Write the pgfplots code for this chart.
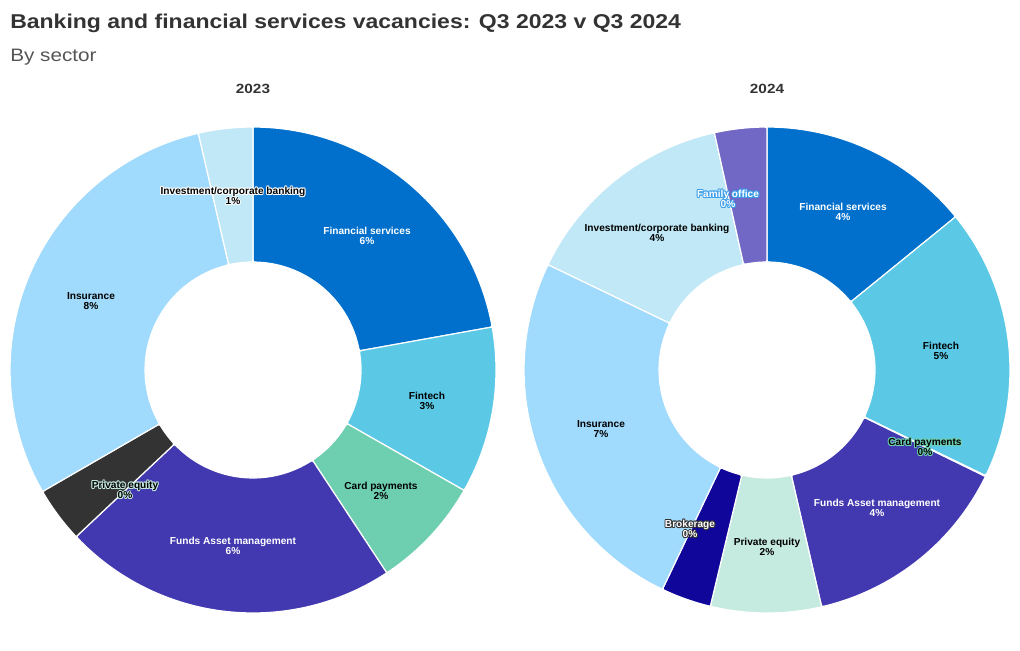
\documentclass[border=0pt]{standalone}
\usepackage{fontspec}
\setmainfont{Liberation Sans}
\newfontfamily\titlefont[FakeStretch=1.15]{Liberation Sans}
\usepackage{pgfplots}
\pgfplotsset{compat=1.18}

\definecolor{cFS}{HTML}{0070CC}
\definecolor{cFin}{HTML}{5BC8E6}
\definecolor{cCard}{HTML}{6ECFB0}
\definecolor{cFunds}{HTML}{4238B0}
\definecolor{cPEa}{HTML}{333333}
\definecolor{cPEb}{HTML}{C5EAE0}
\definecolor{cIns}{HTML}{A0DAFC}
\definecolor{cInv}{HTML}{C0E8F6}
\definecolor{cBro}{HTML}{10069A}
\definecolor{cFam}{HTML}{7068C4}
\definecolor{cTitle}{HTML}{333333}
\definecolor{cSub}{HTML}{555555}
\definecolor{cHaloFam}{HTML}{3A9EEA}

% slice: cx, cy, start angle, end angle (degrees clockwise from 12 o'clock), colour
\newcommand{\slice}[5]{%
\addplot[fill=#5, draw=white, line width=0.9pt, rounded corners=1.5pt,
  samples at={0,1,...,40,100,101,...,140,200}, variable=\t]
 ({#1+(((\t<50)||(\t>150))?243:108)*sin((\t<50)?(#3+(#4-#3)*\t/40):((\t<150)?(#4-(#4-#3)*(\t-100)/40):#3))},
  {#2-(((\t<50)||(\t>150))?243:108)*cos((\t<50)?(#3+(#4-#3)*\t/40):((\t<150)?(#4-(#4-#3)*(\t-100)/40):#3))});
}

\tikzset{lbl/.style={align=center, inner sep=0pt, font=\bfseries\fontsize{7.6}{7.7}\selectfont}}

% plain label: x, y, text colour, line1, line2
\newcommand{\lab}[5]{%
 \node[lbl, text=#3] at (axis cs:#1,#2) {#4\\#5};
}
% halo label: x, y, text colour, halo colour, line1, line2
\newcommand{\hlab}[6]{%
 \node[lbl, text=#4, xshift=0.7pt] at (axis cs:#1,#2) {#5\\#6};
 \node[lbl, text=#4, xshift=-0.7pt] at (axis cs:#1,#2) {#5\\#6};
 \node[lbl, text=#4, yshift=0.7pt] at (axis cs:#1,#2) {#5\\#6};
 \node[lbl, text=#4, yshift=-0.7pt] at (axis cs:#1,#2) {#5\\#6};
 \node[lbl, text=#4, xshift=0.5pt, yshift=0.5pt] at (axis cs:#1,#2) {#5\\#6};
 \node[lbl, text=#4, xshift=-0.5pt, yshift=0.5pt] at (axis cs:#1,#2) {#5\\#6};
 \node[lbl, text=#4, xshift=0.5pt, yshift=-0.5pt] at (axis cs:#1,#2) {#5\\#6};
 \node[lbl, text=#4, xshift=-0.5pt, yshift=-0.5pt] at (axis cs:#1,#2) {#5\\#6};
 \node[lbl, text=#3] at (axis cs:#1,#2) {#5\\#6};
}

\begin{document}
\begin{tikzpicture}
\path[use as bounding box] (0,0) rectangle (765pt,487.5pt);
\begin{axis}[at={(0,0)}, anchor=south west, scale only axis,
  width=765pt, height=487.5pt, xmin=0, xmax=1020, ymin=0, ymax=650,
  y dir=reverse, hide axis, clip=false]

% ---- 2023 (centre 253,370) ----
\slice{253}{370}{0}{79.8}{cFS}
\slice{253}{370}{79.8}{119.7}{cFin}
\slice{253}{370}{119.7}{146.6}{cCard}
\slice{253}{370}{146.6}{226.7}{cFunds}
\slice{253}{370}{226.7}{240.0}{cPEa}
\slice{253}{370}{240.0}{347.0}{cIns}
\slice{253}{370}{347.0}{360.0}{cInv}

% ---- 2024 (centre 767,370) ----
\slice{767}{370}{0}{50.9}{cFS}
\slice{767}{370}{50.9}{115.8}{cFin}
\slice{767}{370}{115.8}{116.0}{cCard}
\slice{767}{370}{116.0}{167.0}{cFunds}
\slice{767}{370}{167.0}{193.5}{cPEb}
\slice{767}{370}{193.5}{205.5}{cBro}
\slice{767}{370}{205.5}{295.7}{cIns}
\slice{767}{370}{295.7}{347.5}{cInv}
\slice{767}{370}{347.5}{360.0}{cFam}

% labels 2023
\hlab{233}{196}{black}{white}{Investment/corporate banking}{1\%}
\lab{367}{236}{white}{Financial services}{6\%}
\lab{427}{401}{black}{Fintech}{3\%}
\lab{381}{491}{black}{Card payments}{2\%}
\lab{233}{546}{white}{Funds Asset management}{6\%}
\hlab{125}{490}{black}{cPEb}{Private equity}{0\%}
\lab{91}{301}{black}{Insurance}{8\%}

% labels 2024
\hlab{728}{199}{white}{cHaloFam}{Family office}{0\%}
\lab{843}{212}{white}{Financial services}{4\%}
\lab{657}{233}{black}{Investment/corporate banking}{4\%}
\lab{941}{351}{black}{Fintech}{5\%}
\hlab{925}{447}{black}{cCard}{Card payments}{0\%}
\lab{601}{429}{black}{Insurance}{7\%}
\lab{877}{508}{white}{Funds Asset management}{4\%}
\hlab{690}{529}{white}{cPEa}{Brokerage}{0\%}
\lab{767}{547}{black}{Private equity}{2\%}

% titles
\node[anchor=base west, inner sep=0pt, text=cTitle, font=\titlefont\bfseries\fontsize{15}{18}\selectfont] at (axis cs:10,28) {Banking and financial services vacancies: Q3 2023 v Q3 2024};
\node[anchor=base west, inner sep=0pt, text=cSub, font=\titlefont\fontsize{13.5}{15}\selectfont] at (axis cs:10,61) {By sector};
\node[anchor=base, inner sep=0pt, text=cTitle, font=\titlefont\bfseries\fontsize{10}{12}\selectfont] at (axis cs:253,93) {2023};
\node[anchor=base, inner sep=0pt, text=cTitle, font=\titlefont\bfseries\fontsize{10}{12}\selectfont] at (axis cs:767,93) {2024};
\end{axis}
\end{tikzpicture}
\end{document}
